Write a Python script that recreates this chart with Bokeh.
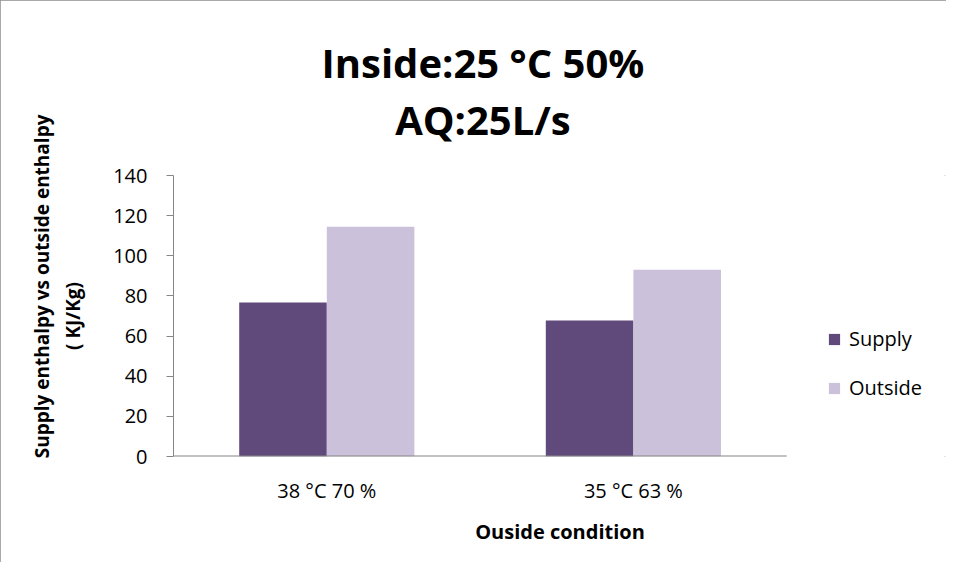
from bokeh.plotting import figure
from bokeh.models import (Range1d, Legend, LegendItem, Title,
                          ColumnDataSource, FixedTicker)
from bokeh.embed import file_html
from bokeh.resources import INLINE

# ---- data ----
categories = ["38 °C 70 %", "35 °C 63 %"]
supply = [76.7, 67.8]
outside = [114.5, 93.1]
series_names = ["Supply", "Outside"]
y_ticks = [0, 20, 40, 60, 80, 100, 120, 140]

title_text = "Inside:25 °C 50%\nAQ:25L/s"
x_label = "Ouside condition"
y_label_line1 = "Supply enthalpy vs outside enthalpy"
y_label_line2 = "( KJ/Kg)"

colors = ["#604A7B", "#CCC1DA"]
FONT = "Open Sans"
AXIS_GRAY = "#868686"

# category slots on a numeric axis: slot i spans [i, i+1]
cat_pos = [i + 0.5 for i in range(len(categories))]
bar_w = 0.2857
src = ColumnDataSource(dict(
    x_supply=[c - bar_w / 2 for c in cat_pos],
    x_outside=[c + bar_w / 2 for c in cat_pos],
    supply=supply, outside=outside))

FRAME_L, FRAME_R = 173, 946
SLOT_PX = 306.6  # pixel width of one category slot
p = figure(x_range=Range1d(0, (FRAME_R - FRAME_L) / SLOT_PX),
           y_range=Range1d(0, 140),
           width=946, height=562,
           output_backend="svg", toolbar_location=None,
           min_border_left=FRAME_L, min_border_right=0,
           min_border_top=175, min_border_bottom=106)

r1 = p.vbar(x="x_supply", top="supply", width=bar_w, source=src,
            fill_color=colors[0], line_color=None)
r2 = p.vbar(x="x_outside", top="outside", width=bar_w, source=src,
            fill_color=colors[1], line_color=None)

# x-axis line only across the category slots
p.segment(x0=[0], y0=[0], x1=[len(categories)], y1=[0],
          line_color=AXIS_GRAY, line_width=2)

t = Title(text=title_text, align="left", offset=148,
          text_font=FONT, text_font_size="40px", text_font_style="bold",
          text_color="black", text_align="center", text_line_height=1.05,
          vertical_align="top", standoff=52)
p.add_layout(t, "above")

p.xgrid.visible = False
p.ygrid.visible = False
p.outline_line_color = None

p.yaxis.ticker = FixedTicker(ticks=y_ticks)
p.yaxis.minor_tick_line_color = None
p.yaxis.major_tick_in = 0
p.yaxis.major_tick_out = 7
p.yaxis.major_tick_line_color = AXIS_GRAY
p.yaxis.axis_line_color = AXIS_GRAY
p.yaxis.major_label_text_font = FONT
p.yaxis.major_label_text_font_size = "20px"
p.yaxis.major_label_text_color = "black"
p.yaxis.major_label_standoff = 19
p.yaxis.axis_label = "\u00a0" * 12 + y_label_line1 + "\n" + y_label_line2
p.yaxis.axis_label_text_font = FONT
p.yaxis.axis_label_text_font_size = "19px"
p.yaxis.axis_label_text_font_style = "bold"
p.yaxis.axis_label_text_color = "black"
p.yaxis.axis_label_standoff = 24

p.xaxis.ticker = FixedTicker(ticks=cat_pos)
p.xaxis.major_label_overrides = {pos: name for pos, name in zip(cat_pos, categories)}
p.xaxis.major_tick_line_color = None
p.xaxis.minor_tick_line_color = None
p.xaxis.axis_line_color = None
p.xaxis.major_label_text_font = FONT
p.xaxis.major_label_text_font_size = "20px"
p.xaxis.major_label_text_color = "black"
p.xaxis.major_label_standoff = 14
p.xaxis.axis_label = x_label
p.xaxis.axis_label_text_font = FONT
p.xaxis.axis_label_text_font_size = "20px"
p.xaxis.axis_label_text_font_style = "bold"
p.xaxis.axis_label_text_color = "black"
p.xaxis.axis_label_standoff = 11

legend = Legend(items=[LegendItem(label=series_names[0], renderers=[r1]),
                       LegendItem(label=series_names[1], renderers=[r2])],
                location=(827 - FRAME_L, 55), orientation="vertical",
                label_text_font=FONT, label_text_font_size="20px",
                label_text_color="black", glyph_width=14, glyph_height=14,
                label_standoff=8, spacing=22, padding=0, margin=0,
                border_line_color=None, background_fill_alpha=0)
p.add_layout(legend, "center")

p.styles = {"outline": "2px solid #8c8c8c", "outline-offset": "-2px"}

open("out.html", "w").write(file_html(p, INLINE))
